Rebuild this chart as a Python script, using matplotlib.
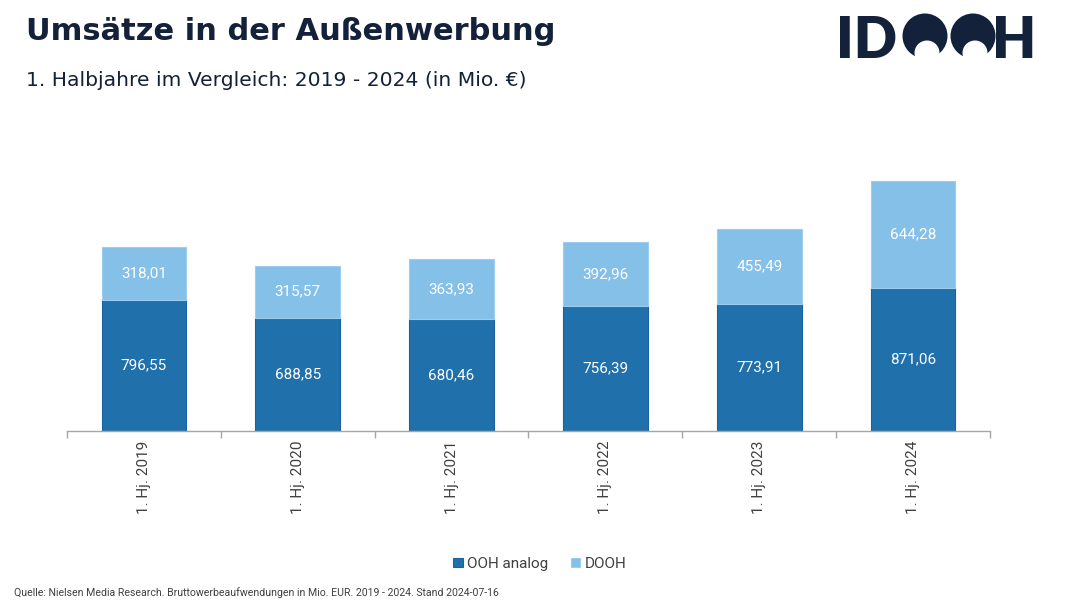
import matplotlib
matplotlib.use("Agg")
import matplotlib.pyplot as plt
from matplotlib.patches import Circle
import numpy as np

categories = ["1. Hj. 2019", "1. Hj. 2020", "1. Hj. 2021", "1. Hj. 2022", "1. Hj. 2023", "1. Hj. 2024"]
ooh_analog = [796.55, 688.85, 680.46, 756.39, 773.91, 871.06]
dooh = [318.01, 315.57, 363.93, 392.96, 455.49, 644.28]
series_names = ["OOH analog", "DOOH"]

c_dark = "#1f70ab"
c_light = "#85c0e9"
navy = "#14213a"

fig = plt.figure(figsize=(10.65, 6.07), dpi=100)

# overlay in pixel coordinates for the logo
ov = fig.add_axes([0, 0, 1, 1])
ov.set_xlim(0, 1065)
ov.set_ylim(607, 0)
ov.axis("off")
ov.text(836, 58, "ID", fontsize=41, fontweight="heavy", family="Lato", color=navy,
        ha="left", va="baseline")
ov.text(1036, 58, "H", fontsize=41, fontweight="heavy", family="Lato", color=navy,
        ha="right", va="baseline")
for cx in (925, 973):
    ov.add_patch(Circle((cx, 36), 22.5, color=navy, lw=0))
    ov.add_patch(Circle((cx + 2, 53), 12.5, color="white", lw=0))

ax = fig.add_axes([67/1065, 1-431/607, 923/1065, 261/607])

x = np.arange(len(categories))
b1 = ax.bar(x, ooh_analog, width=0.55, color=c_dark, edgecolor="#1a62a0", linewidth=0.8, label=series_names[0])
b2 = ax.bar(x, dooh, width=0.55, bottom=ooh_analog, color=c_light, edgecolor="#9ccdf0", linewidth=0.8, label=series_names[1])

def fmt(v):
    return f"{v:.2f}".replace(".", ",")

for xi, a, d in zip(x, ooh_analog, dooh):
    ax.text(xi, a/2, fmt(a), ha="center", va="center", color="white", fontsize=11, family="Roboto")
    ax.text(xi, a + d/2, fmt(d), ha="center", va="center", color="white", fontsize=11, family="Roboto")

ax.set_xlim(-0.5, len(categories)-0.5)
ax.set_ylim(0, 1585)
for s in ["top", "right", "left"]:
    ax.spines[s].set_visible(False)
ax.spines["bottom"].set_color("#a6a6a6")
ax.spines["bottom"].set_linewidth(1)
ax.set_yticks([])
ax.set_xticks(x)
ax.set_xticklabels(categories, rotation=90, fontsize=11, color="#404040", family="Roboto")
ax.tick_params(axis="x", which="major", length=0, pad=7)
ax.set_xticks(np.arange(-0.5, len(categories), 1.0), minor=True)
ax.tick_params(axis="x", which="minor", length=5, color="#a6a6a6", width=1)

leg = fig.legend(handles=[b1, b2], labels=series_names, loc="center", bbox_to_anchor=(540/1065, 1-564/607),
                 ncol=2, frameon=False, handlelength=0.6, handleheight=0.6,
                 handletextpad=0.3, columnspacing=1.5, prop={"family": "Roboto", "size": 11})
for t in leg.get_texts():
    t.set_color("#404040")

fig.text(26/1065, 1-31/607, "Umsätze in der Außenwerbung", fontsize=22, fontweight="bold",
         family="DejaVu Sans", color=navy, va="center", ha="left")
fig.text(26/1065, 1-80/607, "1. Halbjahre im Vergleich: 2019 - 2024 (in Mio. €)", fontsize=14.6,
         family="DejaVu Sans", color=navy, va="center", ha="left")
fig.text(14/1065, 1-593/607, "Quelle: Nielsen Media Research. Bruttowerbeaufwendungen in Mio. EUR. 2019 - 2024. Stand 2024-07-16",
         fontsize=7.6, family="Roboto", color="#404040", va="center", ha="left")

fig.savefig("out.png", dpi=100)
